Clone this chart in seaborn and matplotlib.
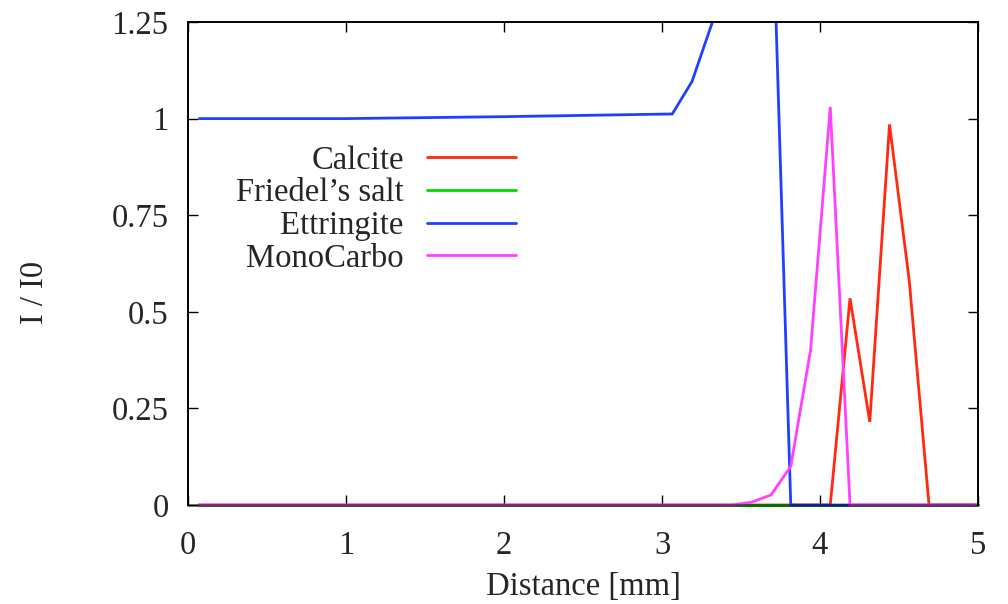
import matplotlib
matplotlib.use("Agg")
import matplotlib.pyplot as plt
from matplotlib.transforms import Bbox, TransformedBbox
from matplotlib.lines import Line2D
import numpy as np
import pandas as pd
import seaborn as sns

# Normalised intensity profiles along the sample depth
distance = [0.065, 1.0, 2.0, 3.065, 3.19, 3.315, 3.44, 3.565, 3.69, 3.815,
            3.94, 4.065, 4.19, 4.315, 4.44, 4.565, 4.69, 5.0]
calcite = [0, 0, 0, 0, 0, 0, 0, 0, 0, 0,
           0, 0, 0.535, 0.215, 0.985, 0.58, 0, 0]
friedels_salt = [0, 0, 0, 0, 0, 0, 0, 0, 0, 0,
                 0, 0, 0, 0, 0, 0, 0, 0]
ettringite = [1.0, 1.0, 1.005, 1.012, 1.096, 1.245, 1.45, 1.6, 1.68, 0,
              0, 0, 0, 0, 0, 0, 0, 0]
monocarbo = [0, 0, 0, 0, 0, 0, 0.0, 0.007, 0.026, 0.10,
             0.40, 1.03, 0, 0, 0, 0, 0, 0]

phases = ["Calcite", "Friedel\u2019s salt", "Ettringite", "MonoCarbo"]
colors = ["#ff2a10", "#00d800", "#2040ff", "#ff40ff"]
x_ticks = [0, 1, 2, 3, 4, 5]
y_ticks = [0, 0.25, 0.5, 0.75, 1.0, 1.25]
y_tick_labels = ["0", "0.25", "0.5", "0.75", "1", "1.25"]

df = pd.concat([
    pd.DataFrame({"Distance": distance, "I/I0": vals, "Phase": name})
    for name, vals in zip(phases, [calcite, friedels_salt, ettringite, monocarbo])
], ignore_index=True)

sns.set_style("ticks")
plt.rcParams["font.family"] = ["Liberation Serif", "DejaVu Serif"]
plt.rcParams["font.size"] = 23.5

fig = plt.figure(figsize=(10.08, 6.04), dpi=100)
ax = fig.add_axes([188 / 1008, 99 / 604, 790 / 1008, 483 / 604])

lw = 2.0
sns.lineplot(data=df, x="Distance", y="I/I0", hue="Phase", hue_order=phases,
             palette=colors, sort=False, estimator=None, linewidth=lw,
             legend=False, ax=ax)

ax.set_xlim(0, 5)
ax.set_ylim(0, 1.25)

# let the traces show their full width on the bottom frame line
clip = TransformedBbox(Bbox([[0, -0.02], [1, 1]]), ax.transAxes)
for ln in ax.get_lines():
    ln.set_clip_box(clip)
    ln.set_solid_capstyle("butt")
    ln.set_solid_joinstyle("miter")

ax.set_xticks(x_ticks)
ax.set_xticklabels([str(t) for t in x_ticks])
ax.set_yticks(y_ticks)
ax.set_yticklabels(y_tick_labels)
ax.tick_params(axis="both", direction="in", length=7, width=1.0,
               color="black", labelsize=23.5, top=True, right=True)
ax.tick_params(axis="x", pad=18)
ax.tick_params(axis="y", pad=14)

for side in ["left", "top", "right"]:
    ax.spines[side].set_color("black")
    ax.spines[side].set_linewidth(1.4)
ax.spines["bottom"].set_color((0, 0, 0, 0.5))
ax.spines["bottom"].set_linewidth(lw)
ax.spines["bottom"].set_zorder(5)

ax.set_xlabel("Distance [mm]", fontsize=23.5, labelpad=8)
ax.set_ylabel("I / I0", fontsize=23.5)
ax.yaxis.set_label_coords(-0.175, 0.44)

handles = [Line2D([0], [0], color=c, lw=lw) for c in colors]
ax.legend(handles, phases, loc="upper left", bbox_to_anchor=(0.040, 0.779),
          frameon=False, markerfirst=False, borderpad=0, labelspacing=0.07,
          handlelength=2.75, handletextpad=0.7, fontsize=23.5)

fig.savefig("out.png", dpi=100)
